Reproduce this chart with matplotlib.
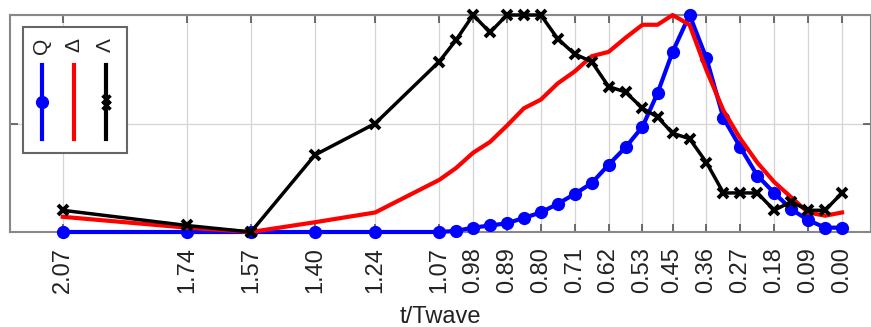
import matplotlib.pyplot as plt
from matplotlib.lines import Line2D
from matplotlib.patches import Rectangle

plt.rcParams['font.family'] = ['Liberation Sans', 'DejaVu Sans']

# time axis (t/Twave)
t = [2.07, 1.74, 1.57, 1.40, 1.24, 1.07, 1.025, 0.98, 0.935, 0.89, 0.845, 0.80,
     0.755, 0.71, 0.665, 0.62, 0.575, 0.53, 0.49, 0.45, 0.405, 0.36, 0.315,
     0.27, 0.225, 0.18, 0.135, 0.09, 0.045, 0.00]

Q = [0.0, 0.0, 0.0, 0.0, 0.0, 0.0, 0.005, 0.02, 0.03, 0.04, 0.065, 0.09,
     0.13, 0.175, 0.225, 0.31, 0.39, 0.485, 0.64, 0.83, 1.0, 0.80, 0.525,
     0.39, 0.26, 0.18, 0.105, 0.055, 0.02, 0.02]

Delta = [0.07, 0.02, 0.0, 0.045, 0.09, 0.24, 0.295, 0.365, 0.415, 0.49, 0.57, 0.61,
         0.685, 0.74, 0.81, 0.83, 0.895, 0.955, 0.955, 1.0, 0.955, 0.745, 0.56,
         0.43, 0.32, 0.23, 0.16, 0.09, 0.075, 0.09]

Lam = [0.10, 0.03, 0.0, 0.355, 0.50, 0.785, 0.885, 1.0, 0.92, 1.0, 1.0, 1.0,
       0.89, 0.82, 0.785, 0.67, 0.645, 0.57, 0.53, 0.455, 0.43, 0.32, 0.18,
       0.18, 0.18, 0.10, 0.14, 0.10, 0.10, 0.18]

tick_vals = [2.07, 1.74, 1.57, 1.40, 1.24, 1.07, 0.98, 0.89, 0.80, 0.71, 0.62,
             0.53, 0.45, 0.36, 0.27, 0.18, 0.09, 0.00]
tick_labels = ['%.2f' % v for v in tick_vals]

fig = plt.figure(figsize=(8.71, 3.27), dpi=100)
ax = fig.add_axes([10/871, 95/327, 861/871, 217/327])

ax.plot(t, Q, color='blue', lw=3, marker='o', ms=8.5, clip_on=False, zorder=3)
ax.plot(t, Delta, color='red', lw=3, clip_on=False, zorder=4)
ax.plot(t, Lam, color='black', lw=2.5, marker='x', ms=7.5, mew=2.8, clip_on=False, zorder=5)

ax.set_xlim(2.21, -0.077)
ax.set_ylim(0, 1)
ax.set_xticks(tick_vals)
ax.set_xticklabels(tick_labels, rotation=90, fontsize=17, color='#222222')
ax.set_yticks([0, 0.5, 1])
ax.set_yticklabels([])
ax.tick_params(direction='in', length=6, width=1.2, color='#555555',
               top=True, right=True, pad=11)
ax.grid(True, color='#d4d4d4', lw=0.9)
for s in ax.spines.values():
    s.set_color('#888888')
    s.set_linewidth(1.5)
ax.set_xlabel('t/Twave', fontsize=17, color='#222222', labelpad=9)

# legend, drawn rotated by hand
tr = ax.transAxes
ax.add_patch(Rectangle((0.015, 0.364), 0.121, 0.581, transform=tr, fill=True,
                       facecolor='white', edgecolor='#666666', lw=1.5, zorder=6))
for xp, col, lab, mk in [(0.037, 'blue', 'Q', 'o'), (0.074, 'red', 'Δ', None),
                         (0.111, 'black', 'Λ', 'x')]:
    ax.add_line(Line2D([xp, xp], [0.43, 0.77], transform=tr, color=col, lw=3,
                       zorder=7))
    if mk == 'o':
        ax.add_line(Line2D([xp], [0.6], transform=tr, color=col, marker='o',
                           ms=8.5, zorder=8))
    if mk == 'x':
        ax.add_line(Line2D([xp, xp], [0.585, 0.615], transform=tr, color=col,
                           marker='x', ms=6, mew=2.5, lw=0, zorder=8))
    ax.text(xp, 0.86, lab, transform=tr, rotation=90, ha='center', va='center',
            fontsize=15, color='#222222', zorder=8)

fig.savefig('out.png', dpi=100)
